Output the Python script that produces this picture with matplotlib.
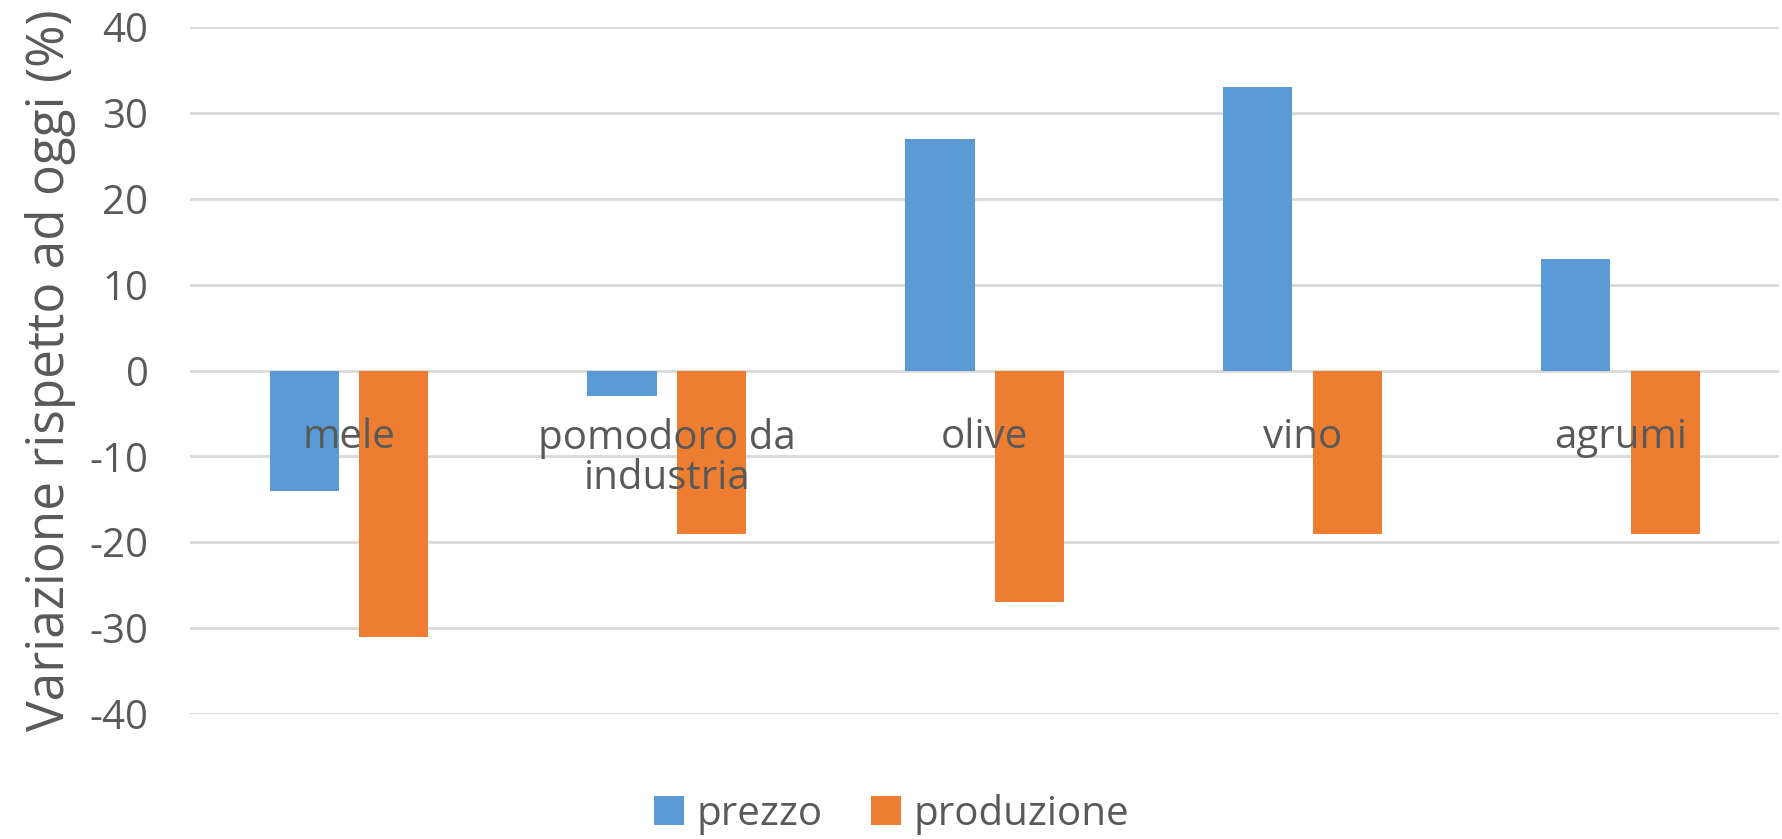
import matplotlib
matplotlib.use('Agg')
import matplotlib.pyplot as plt
import numpy as np

# data
categorie = ['mele', 'pomodoro da\nindustria', 'olive', 'vino', 'agrumi']
prezzo = [-14, -3, 27, 33, 13]
produzione = [-31, -19, -27, -19, -19]
yticks = [-40, -30, -20, -10, 0, 10, 20, 30, 40]

BLU = '#5B9BD5'
ARANCIO = '#ED7D31'
GRIGIO = '#595959'

plt.rcParams['font.family'] = ['Open Sans', 'DejaVu Sans']
plt.rcParams['axes.unicode_minus'] = False

fig = plt.figure(figsize=(17.83, 8.39), dpi=100)
ax = fig.add_axes([0.1066, 0.149, 0.8914, 0.8188])

x = np.arange(len(categorie))
w = 0.218
off = 0.141
ax.bar(x - off, prezzo, w, color=BLU, label='prezzo', zorder=2)
ax.bar(x + off, produzione, w, color=ARANCIO, label='produzione', zorder=2)

ax.set_xlim(-0.5, len(categorie) - 0.5)
ax.set_ylim(-40, 40)
ax.set_yticks(yticks)
ax.yaxis.grid(True, color='#d9d9d9', linewidth=2)
# grid (y axis) behind the bars, category labels (x axis) on top of them
ax.yaxis.set_zorder(0.5)
ax.xaxis.set_zorder(5)
for s in ['top', 'right', 'left']:
    ax.spines[s].set_visible(False)
ax.spines['bottom'].set_position(('data', 0))
ax.spines['bottom'].set_visible(False)

ax.set_xticks(x)
ax.set_xticklabels(categorie, fontsize=29, color=GRIGIO, linespacing=1.0)
ax.tick_params(axis='x', length=0, pad=34)
ax.tick_params(axis='y', length=0, pad=30, labelsize=29, labelcolor=GRIGIO)

ax.set_ylabel('Variazione rispetto ad oggi (%)', fontsize=37, color=GRIGIO, labelpad=10)

leg = fig.legend(loc='lower center', bbox_to_anchor=(0.5, -0.038), ncol=2, frameon=False,
                 fontsize=29, handlelength=0.75, handleheight=0.75, handletextpad=0.3,
                 columnspacing=1.2, labelcolor=GRIGIO)

fig.savefig('out.png', dpi=100)
